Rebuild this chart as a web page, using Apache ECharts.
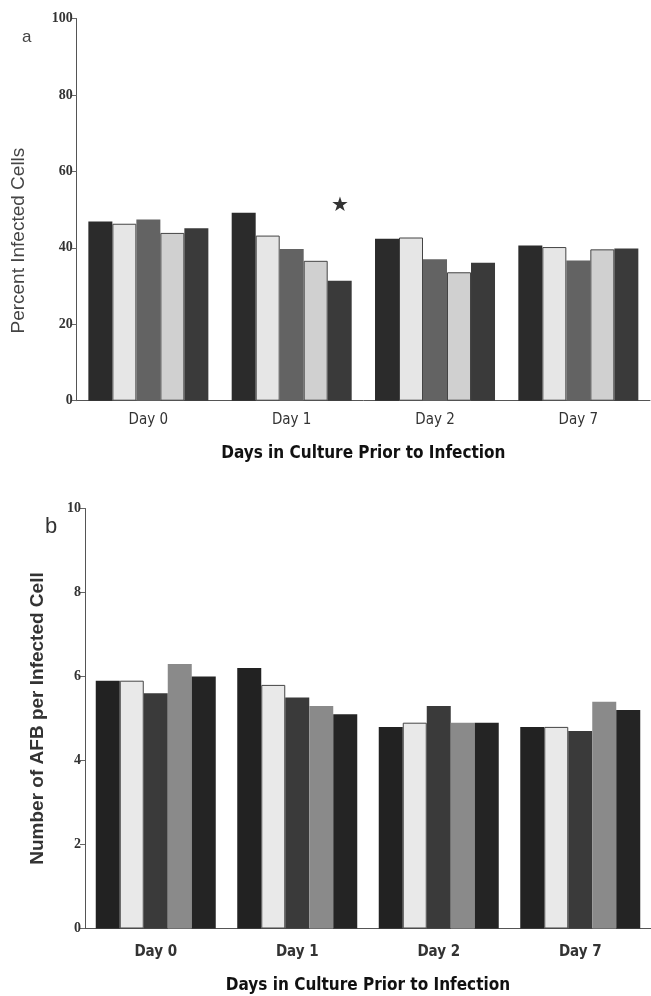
<!DOCTYPE html>
<html>
<head>
<meta charset="utf-8">
<script src="https://cdn.jsdelivr.net/npm/echarts@6/dist/echarts.min.js"></script>
<style>
  html, body { margin: 0; padding: 0; background: #fff; }
  #chart { width: 651px; height: 996px; }
</style>
</head>
<body>
<div id="chart"></div>
<script>
// categories
var days = ["Day 0", "Day 1", "Day 2", "Day 7"];

// panel a: percent infected cells, five bars per day
var pctA1 = [46.9, 49.2, 42.4, 40.6];
var pctA2 = [46.3, 43.2, 42.7, 40.2];
var pctA3 = [47.4, 39.7, 37.0, 36.7];
var pctA4 = [43.9, 36.6, 33.6, 39.6];
var pctA5 = [45.1, 31.4, 36.1, 39.8];

// panel b: number of AFB per infected cell
var afbB1 = [5.9, 6.2, 4.8, 4.8];
var afbB2 = [5.9, 5.8, 4.9, 4.8];
var afbB3 = [5.6, 5.5, 5.3, 4.7];
var afbB4 = [6.3, 5.3, 4.9, 5.4];
var afbB5 = [6.0, 5.1, 4.9, 5.2];

var colorsA = ["#2b2b2b", "#e6e6e6", "#636363", "#d0d0d0", "#3a3a3a"];
var colorsB = ["#222222", "#e9e9e9", "#3a3a3a", "#8a8a8a", "#242424"];

var tickFont = { fontFamily: "Liberation Serif", fontWeight: "bold", fontSize: 14, color: "#333" };
var narrow = "'DejaVu Sans Condensed', 'Liberation Sans', sans-serif";

function catAxis(gridIndex, bold, margin, nameGap) {
	return {
		type: "category",
		gridIndex: gridIndex,
		data: days,
		axisLine: { lineStyle: { color: "#555", width: 1 } },
		axisTick: { length: 5, lineStyle: { color: "#777" } },
		axisLabel: {
			fontFamily: narrow,
			fontWeight: bold ? "bold" : "normal",
			fontSize: 15,
			color: "#333",
			margin: margin
		},
		name: "Days in Culture Prior to Infection",
		nameLocation: "middle",
		nameGap: nameGap,
		nameTextStyle: { fontFamily: narrow, fontWeight: "bold", fontSize: 17, color: "#111" }
	};
}

function valAxis(gridIndex, max, interval) {
	return {
		type: "value",
		gridIndex: gridIndex,
		min: 0,
		max: max,
		interval: interval,
		splitLine: { show: false },
		axisLine: { show: true, lineStyle: { color: "#555", width: 1 } },
		axisTick: { show: true, length: 5, lineStyle: { color: "#666" } },
		axisLabel: Object.assign({ margin: 4 }, tickFont)
	};
}

function bars(data, idx, color, light) {
	return {
		type: "bar",
		xAxisIndex: idx,
		yAxisIndex: idx,
		data: data,
		barWidth: 24,
		barGap: "0%",
		itemStyle: { color: color, borderColor: light ? "#444" : color, borderWidth: light ? 1 : 0 }
	};
}

var yA = valAxis(0, 100, 20);
yA.name = "Percent Infected Cells";
yA.nameLocation = "middle";
yA.nameRotate = 90;
yA.nameGap = 48;
yA.nameTextStyle = { fontFamily: "Liberation Sans", fontSize: 19, color: "#444", padding: [0, 62, 0, 0] };

var yB = valAxis(1, 10, 2);
yB.name = "Number of AFB per Infected Cell";
yB.nameLocation = "middle";
yB.nameRotate = 90;
yB.nameGap = 38;
yB.nameTextStyle = { fontFamily: "Liberation Sans", fontWeight: "bold", fontSize: 19, color: "#333" };

var seriesA = [pctA1, pctA2, pctA3, pctA4, pctA5].map(function (d, i) {
	return bars(d, 0, colorsA[i], i === 1 || i === 3);
});
// star marks the Day 1 value of the fifth bar
seriesA[4].data = pctA5.map(function (v, i) {
	if (days[i] !== "Day 1") return v;
	return {
		value: v,
		label: { show: true, formatter: "★", position: "top", distance: 65, fontSize: 20, color: "#333" }
	};
});
var seriesB = [afbB1, afbB2, afbB3, afbB4, afbB5].map(function (d, i) {
	return bars(d, 1, colorsB[i], i === 1);
});

var chart = echarts.init(document.getElementById("chart"));
chart.setOption({
	animation: false,
	backgroundColor: "#fff",
	grid: [
		{ left: 76.7, top: 18.5, width: 573.3, height: 382.2 },
		{ left: 85, top: 508.5, width: 573.6, height: 420 }
	],
	xAxis: [catAxis(0, false, 12, 44), catAxis(1, true, 16, 49)],
	yAxis: [yA, yB],
	series: seriesA.concat(seriesB),
	graphic: [
		{ type: "text", left: 22, top: 29, style: { text: "a", fontFamily: "Liberation Sans", fontSize: 17, fill: "#444" } },
		{ type: "text", left: 45, top: 516, style: { text: "b", fontFamily: "Liberation Sans", fontSize: 22, fill: "#333" } }
	]
});
</script>
</body>
</html>
